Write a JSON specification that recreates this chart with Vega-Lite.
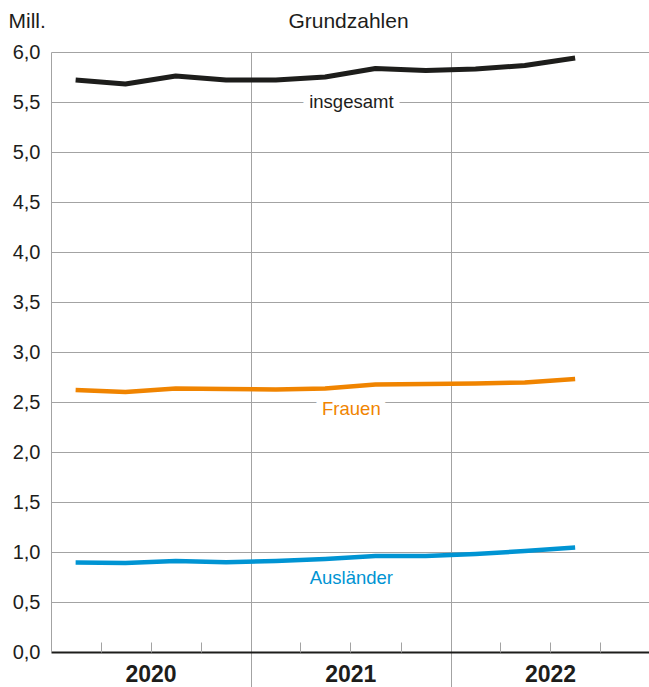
{
  "$schema": "https://vega.github.io/schema/vega-lite/v6.json",
  "width": 598,
  "height": 600,
  "autosize": {"type": "none"},
  "padding": {"left": 51, "top": 52, "right": 0, "bottom": 35},
  "config": {
    "font": "Liberation Sans",
    "view": {"stroke": null},
    "axis": {"labelFont": "Liberation Sans", "titleFont": "Liberation Sans"}
  },
  "datasets": {
    "werte": [
      {"serie": "insgesamt", "datum": "2020/02/15", "wert": 5.72},
      {"serie": "insgesamt", "datum": "2020/05/16", "wert": 5.68},
      {"serie": "insgesamt", "datum": "2020/08/16", "wert": 5.76},
      {"serie": "insgesamt", "datum": "2020/11/16", "wert": 5.72},
      {"serie": "insgesamt", "datum": "2021/02/15", "wert": 5.72},
      {"serie": "insgesamt", "datum": "2021/05/16", "wert": 5.75},
      {"serie": "insgesamt", "datum": "2021/08/16", "wert": 5.835},
      {"serie": "insgesamt", "datum": "2021/11/16", "wert": 5.815},
      {"serie": "insgesamt", "datum": "2022/02/15", "wert": 5.83},
      {"serie": "insgesamt", "datum": "2022/05/16", "wert": 5.865},
      {"serie": "insgesamt", "datum": "2022/08/16", "wert": 5.94},
      {"serie": "Frauen", "datum": "2020/02/15", "wert": 2.62},
      {"serie": "Frauen", "datum": "2020/05/16", "wert": 2.60},
      {"serie": "Frauen", "datum": "2020/08/16", "wert": 2.635},
      {"serie": "Frauen", "datum": "2020/11/16", "wert": 2.63},
      {"serie": "Frauen", "datum": "2021/02/15", "wert": 2.625},
      {"serie": "Frauen", "datum": "2021/05/16", "wert": 2.635},
      {"serie": "Frauen", "datum": "2021/08/16", "wert": 2.675},
      {"serie": "Frauen", "datum": "2021/11/16", "wert": 2.68},
      {"serie": "Frauen", "datum": "2022/02/15", "wert": 2.685},
      {"serie": "Frauen", "datum": "2022/05/16", "wert": 2.695},
      {"serie": "Frauen", "datum": "2022/08/16", "wert": 2.73},
      {"serie": "Ausländer", "datum": "2020/02/15", "wert": 0.895},
      {"serie": "Ausländer", "datum": "2020/05/16", "wert": 0.89},
      {"serie": "Ausländer", "datum": "2020/08/16", "wert": 0.91},
      {"serie": "Ausländer", "datum": "2020/11/16", "wert": 0.897},
      {"serie": "Ausländer", "datum": "2021/02/15", "wert": 0.91},
      {"serie": "Ausländer", "datum": "2021/05/16", "wert": 0.93},
      {"serie": "Ausländer", "datum": "2021/08/16", "wert": 0.96},
      {"serie": "Ausländer", "datum": "2021/11/16", "wert": 0.96},
      {"serie": "Ausländer", "datum": "2022/02/15", "wert": 0.98},
      {"serie": "Ausländer", "datum": "2022/05/16", "wert": 1.01},
      {"serie": "Ausländer", "datum": "2022/08/16", "wert": 1.045}
    ],
    "beschriftung": [
      {"serie": "insgesamt", "datum": "2021/07/03", "wert": 5.5},
      {"serie": "Frauen", "datum": "2021/07/03", "wert": 2.43},
      {"serie": "Ausländer", "datum": "2021/07/03", "wert": 0.74}
    ]
  },
  "encoding": {
    "y": {
      "field": "wert",
      "type": "quantitative",
      "scale": {"domain": [0, 6], "nice": false, "zero": true},
      "axis": {
        "values": [0, 0.5, 1, 1.5, 2, 2.5, 3, 3.5, 4, 4.5, 5, 5.5, 6],
        "labelExpr": "replace(format(datum.value, '.1f'), '.', ',')",
        "labelFontSize": 20,
        "labelColor": "#1d1d1b",
        "labelPadding": 11,
        "ticks": false,
        "domain": true,
        "domainColor": "#a3a3a3",
        "domainWidth": 1,
        "grid": true,
        "gridColor": "#a3a3a3",
        "gridWidth": 1,
        "title": "Mill.",
        "titleAngle": 0,
        "titleX": -43,
        "titleY": -25,
        "titleAlign": "left",
        "titleBaseline": "alphabetic",
        "titleFontWeight": "normal",
        "titleFontSize": 21,
        "titleColor": "#1d1d1b"
      }
    },
    "color": {
      "field": "serie",
      "type": "nominal",
      "scale": {"domain": ["insgesamt", "Frauen", "Ausländer"], "range": ["#1d1d1b", "#f08400", "#0094d3"]},
      "legend": null
    }
  },
  "layer": [
    {
      "data": {"name": "werte"},
      "transform": [{"filter": "datum.serie === 'insgesamt'"}],
      "mark": {"type": "line", "strokeWidth": 5, "strokeJoin": "round"},
      "encoding": {
        "x": {
          "field": "datum",
          "type": "temporal",
          "scale": {"domain": [{"year": 2020, "month": 1, "date": 1}, {"year": 2022, "month": 12, "date": 29}]},
          "axis": {
            "orient": "bottom",
            "values": [{"year": 2021, "month": 1, "date": 1}, {"year": 2022, "month": 1, "date": 1}],
            "labels": false,
            "ticks": true,
            "tickSize": 36,
            "tickColor": "#a3a3a3",
            "tickWidth": 1,
            "grid": true,
            "gridColor": "#a3a3a3",
            "gridWidth": 1,
            "domain": true,
            "domainColor": "#1d1d1b",
            "domainWidth": 2,
            "title": null
          }
        }
      }
    },
    {
      "data": {"name": "werte"},
      "transform": [{"filter": "datum.serie === 'Frauen'"}],
      "mark": {"type": "line", "strokeWidth": 4.5, "strokeJoin": "round"},
      "encoding": {
        "x": {
          "field": "datum",
          "type": "temporal",
          "axis": {
            "orient": "bottom",
            "values": [
              {"year": 2020, "month": 4, "date": 1}, {"year": 2020, "month": 7, "date": 1}, {"year": 2020, "month": 10, "date": 1},
              {"year": 2021, "month": 4, "date": 1}, {"year": 2021, "month": 7, "date": 1}, {"year": 2021, "month": 10, "date": 1},
              {"year": 2022, "month": 4, "date": 1}, {"year": 2022, "month": 7, "date": 1}, {"year": 2022, "month": 10, "date": 1}
            ],
            "labels": false,
            "ticks": true,
            "tickSize": -10,
            "tickColor": "#a3a3a3",
            "tickWidth": 1,
            "grid": false,
            "domain": false,
            "title": null
          }
        }
      }
    },
    {
      "data": {"name": "werte"},
      "transform": [{"filter": "datum.serie === 'Ausländer'"}],
      "mark": {"type": "line", "strokeWidth": 4.5, "strokeJoin": "round"},
      "encoding": {
        "x": {
          "field": "datum",
          "type": "temporal",
          "axis": {
            "orient": "bottom",
            "values": [{"year": 2020, "month": 7, "date": 1}, {"year": 2021, "month": 7, "date": 1}, {"year": 2022, "month": 7, "date": 1}],
            "labelExpr": "timeFormat(datum.value, '%Y')",
            "labelFontSize": 23,
            "labelFontWeight": "bold",
            "labelColor": "#1d1d1b",
            "labelPadding": 11,
            "ticks": false,
            "grid": false,
            "domain": false,
            "title": "Grundzahlen",
            "titleX": 297,
            "titleY": -625,
            "titleAlign": "center",
            "titleBaseline": "alphabetic",
            "titleFontWeight": "normal",
            "titleFontSize": 21,
            "titleColor": "#1d1d1b"
          }
        }
      }
    },
    {
      "data": {"name": "beschriftung"},
      "mark": {"type": "text", "fontSize": 18.5, "baseline": "middle", "align": "center", "color": "white", "stroke": "white", "strokeWidth": 14, "strokeJoin": "round"},
      "encoding": {
        "x": {"field": "datum", "type": "temporal", "axis": null},
        "text": {"field": "serie"},
        "color": {"value": "white"}
      }
    },
    {
      "data": {"name": "beschriftung"},
      "mark": {"type": "text", "fontSize": 18.5, "baseline": "middle", "align": "center"},
      "encoding": {
        "x": {"field": "datum", "type": "temporal", "axis": null},
        "text": {"field": "serie"}
      }
    }
  ],
  "resolve": {"axis": {"x": "independent"}}
}
